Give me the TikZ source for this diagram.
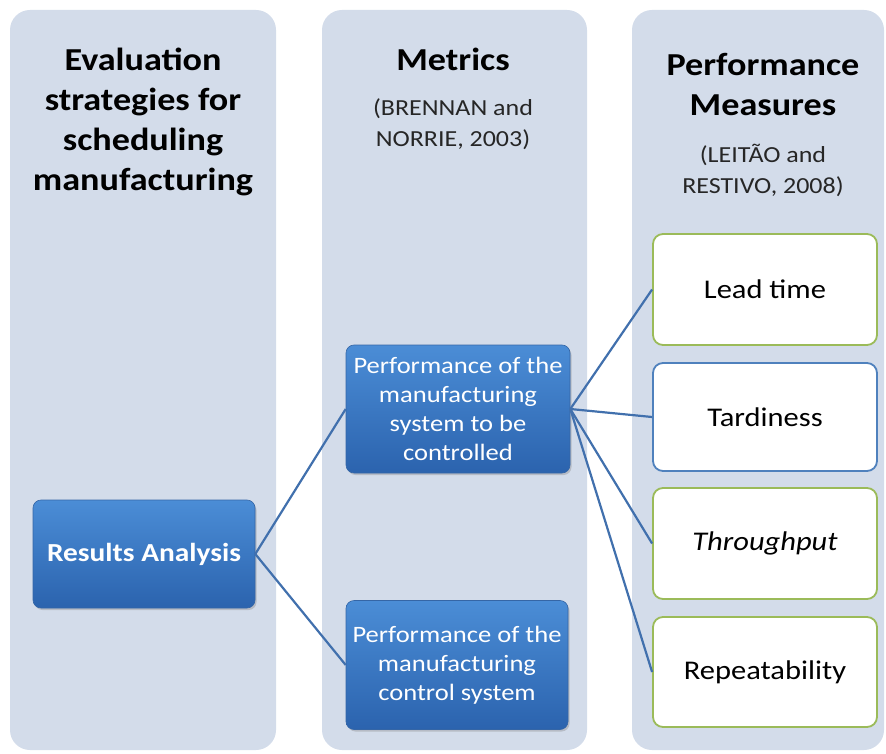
\documentclass[tikz,border=0pt]{standalone}
\usepackage{fontspec}
\setmainfont[FakeStretch=1.13]{Carlito}
\usetikzlibrary{shadows}
\definecolor{colbg}{HTML}{D3DCEA}
\definecolor{bluetop}{HTML}{4B8DD6}
\definecolor{bluebot}{HTML}{2B63AE}
\definecolor{blueedge}{HTML}{3566A6}
\definecolor{linkc}{HTML}{4170AD}
\definecolor{greenedge}{HTML}{9BBB59}
\definecolor{blueline}{HTML}{4F81BD}
\tikzset{
  colbox/.style={fill=colbg, rounded corners=20pt},
  bluebox/.style={rectangle, rounded corners=8pt, top color=bluetop, bottom color=bluebot,
    draw=blueedge, line width=0.6pt, text=white, align=center, inner sep=0pt,
    drop shadow={opacity=0.35, shadow xshift=1.5pt, shadow yshift=-2pt}},
  measbox/.style={rectangle, rounded corners=10pt, fill=white, line width=1.8pt,
    align=center, inner sep=0pt, minimum width=224pt, font=\fontsize{27}{32}\selectfont},
  link/.style={draw=linkc, line width=2.2pt},
  titletxt/.style={align=center, font=\bfseries\fontsize{32}{40}\selectfont},
  subtxt/.style={align=center, font=\fontsize{23}{31}\selectfont, text=black!85}
}
\begin{document}
\begin{tikzpicture}[x=1pt,y=-1pt]
\useasboundingbox (0,0) rectangle (886,754);
% column backgrounds
\fill[colbox] (10,10) rectangle (276,750);
\fill[colbox] (322,10) rectangle (587,750);
\fill[colbox] (632,10) rectangle (884,750);
% headers
\node[titletxt] (t1) at (143,122) {Evaluation\\strategies for\\scheduling\\manufacturing};
\node[titletxt] (t2) at (453,59) {Metrics};
\node[subtxt] (s2) at (453,124) {(BRENNAN and\\NORRIE, 2003)};
\node[titletxt] (t3) at (763,85) {Performance\\Measures};
\node[subtxt] (s3) at (763,170) {(LEITÃO and\\RESTIVO, 2008)};
% blue boxes
\node[bluebox, minimum width=222pt, minimum height=108pt, font=\bfseries\fontsize{26}{30}\selectfont] (res) at (144,554) {Results Analysis};
\node[bluebox, minimum width=224pt, minimum height=128pt, font=\fontsize{23.5}{29}\selectfont] (sys) at (458,409) {Performance of the\\manufacturing\\system to be\\controlled};
\node[bluebox, minimum width=222pt, minimum height=129pt, font=\fontsize{23.5}{29}\selectfont] (ctl) at (457,665) {Performance of the\\manufacturing\\control system};
% measure boxes
\node[measbox, draw=greenedge, minimum height=111pt] (lead) at (765,289.5) {Lead time};
\node[measbox, draw=blueline, minimum height=108pt] (tard) at (765,417) {Tardiness};
\node[measbox, draw=greenedge, minimum height=111pt] (thr) at (765,543.5) {\itshape Throughput};
\node[measbox, draw=greenedge, minimum height=110pt] (rep) at (765,672) {Repeatability};
% connectors
\draw[link] (res.east) -- (sys.west);
\draw[link] (res.east) -- (ctl.west);
\draw[link] (sys.east) -- (lead.west);
\draw[link] (sys.east) -- (tard.west);
\draw[link] (sys.east) -- (thr.west);
\draw[link] (sys.east) -- (rep.west);
\end{tikzpicture}
\end{document}
